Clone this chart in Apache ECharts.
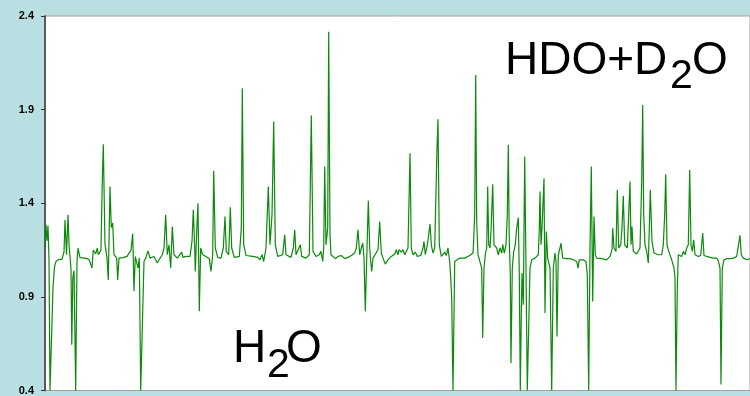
<!DOCTYPE html>
<html>
<head>
<meta charset="utf-8">
<script src="https://cdn.jsdelivr.net/npm/echarts@6/dist/echarts.min.js"></script>
<style>
  html, body { margin: 0; padding: 0; background: #b9dfe2; }
  #chart { width: 750px; height: 396px; }
</style>
</head>
<body>
<div id="chart"></div>
<script>
// spectrum channel positions (arbitrary units, 0 = left edge of plot)
var channel = [
  0, 1, 2, 3, 4, 5, 6.5, 8, 9.5, 11, 14, 17, 19, 20, 21.5, 23, 24, 26, 26.8, 27.8, 29, 30.7, 32, 33, 35, 37, 40, 44, 46, 47,
  48.3, 50.7, 52.3, 53.3, 56, 57.3, 58.3, 60, 62, 63.3, 65, 66.3, 67.7, 69, 71.7, 72.7, 74, 78, 82, 86, 87.7, 89, 90.3, 91.7,
  93, 94.3, 95.7, 97.3, 99, 100.7, 103, 105, 109, 112.3, 114, 117.3, 119, 120.7, 122.3, 124, 125.7, 127.3, 129, 132.3, 136.7, 138,
  141, 145, 147, 148.3, 149.7, 150.3, 151.7, 153, 154.3, 155.7, 157.7, 161, 164.3, 166, 167.7, 168.7, 170.3, 172.7, 176, 178.3,
  180, 181.3, 183.7, 185.3, 186.7, 189.3, 194.3, 196.3, 197.3, 198.7, 201, 207.7, 212.7, 215, 217, 218.7, 221, 223.3, 225, 227,
  228.7, 230.3, 232.7, 237.7, 239.7, 241, 246, 248.3, 249.7, 251, 253, 255.3, 256.7, 261, 264.3, 266.3, 268, 271, 274.3, 276,
  277.7, 278.7, 279.7, 281, 282.7, 283.7, 285, 286,
  287, 290.3, 293, 296.3, 299.7, 303, 306.3, 309.7, 311.3, 313, 314.7, 316.3, 317.7, 319, 320.3, 322, 323.3, 324.7, 325.7, 326.7,
  328, 329.7, 333, 334.7, 336.3, 338, 340.3, 343, 346.3, 349.7, 351.3, 353, 354, 356.3, 358, 359.7, 361.3, 363, 365, 366.3,
  368, 370.3, 372.3, 375.7, 378, 379, 380.3, 382.3, 383.7, 385, 386.3, 388, 389.7, 392, 393, 394.3, 396.3, 398, 399.7, 401.3,
  403, 404.7, 405.7, 406.7, 408, 409.7, 411.3, 414.7, 419.7, 424.7, 428,
  428.3, 429.7, 430.7, 431.7, 433, 435, 436.7, 437.7, 439, 440.3, 441.7, 442.7, 443.7, 445, 446, 447.7, 449, 451.7, 453.3, 455,
  456.7, 457.7, 459.3, 461, 462.3, 463.3, 464.3, 465.3, 466, 467.3, 468.7, 470.3, 471.7, 473.3, 474.3, 475.3, 476.3, 477, 478.3, 479.7,
  481, 482.3, 483.7, 485, 486.7, 490, 493.3, 494.3, 495, 496, 497, 499, 500, 501.3, 502.7, 505, 506.7, 508.3, 510, 511,
  512, 513.3, 515, 516, 517.7, 521.7, 525, 528.3, 531.7, 533, 534.3, 538.3, 541, 542.3, 543.7, 545, 546.3, 547.7, 549, 550.3,
  551.7, 556.7, 561.7, 563.3, 565, 567, 567.7, 569,
  571, 572.3, 573.7, 575.7, 577, 578.3, 579.7, 582.3, 583.7, 585, 586, 587, 588.3, 591.7, 595, 596.7, 597.7, 598.7, 600, 601.7,
  603.3, 604.3, 605.3, 607, 609, 613.3, 616.7, 618.3, 619.7, 620.7, 622, 623.7, 625, 626.7, 629, 630, 631, 632.3, 633.3, 635,
  636.7, 638.3, 640, 641.7, 643.3, 644.7, 646, 647.3, 648.7, 650, 653.3, 655.7, 657.7, 659, 661.7, 665, 668.3, 671.7, 673.3, 675,
  676, 677.3, 679, 681.7, 685, 688.3, 691.7, 693.7, 695, 696.3, 698.3, 701.7, 705
];
var signal = [
  1.16, 1.285, 1.2, 1.28, 1.1, 0.4, 0.4, 0.95, 1.06, 1.09, 1.1, 1.1, 1.14, 1.31, 1.125, 1.338, 1.18, 1.05, 0.645, 1.0, 1.04, 0.4, 1.09, 1.16, 1.11, 1.11, 1.107, 1.1, 1.1, 1.055,
  1.15, 1.13, 1.16, 1.125, 1.15, 1.52, 1.715, 1.18, 1.11, 0.99, 1.49, 1.27, 1.294, 1.125, 1.107, 0.99, 1.107, 1.11, 1.116, 1.15, 1.237, 0.93, 1.116, 1.125,
  1.054, 1.107, 0.4, 0.4, 1.09, 1.107, 1.146, 1.107, 1.116, 1.081, 1.098, 1.125, 1.161, 1.338, 1.125, 1.178, 1.054, 1.276, 1.125, 1.107, 1.139, 1.111,
  1.116, 1.116, 1.196, 1.365, 1.161, 1.036, 1.249, 1.4, 0.823, 1.161, 1.125, 1.116, 1.104, 1.036, 1.125, 1.573, 1.161, 1.111, 1.107, 1.161,
  1.329, 1.143, 1.125, 1.379, 1.161, 1.111, 1.116, 1.267, 2.014, 1.178, 1.121, 1.116, 1.111, 1.098, 1.125, 1.089, 1.161, 1.489, 1.178, 1.338,
  1.836, 1.178, 1.116, 1.125, 1.232, 1.125, 1.111, 1.161, 1.258, 1.125, 1.121, 1.178, 1.116, 1.107, 1.125, 1.868, 1.143, 1.116, 1.125, 1.143,
  1.089, 1.161, 1.596, 1.178, 1.267, 2.316, 1.23, 1.125,
  1.134, 1.104, 1.116, 1.121, 1.104, 1.111, 1.121, 1.134, 1.161, 1.258, 1.125, 1.161, 1.187, 1.107, 0.823, 1.161, 1.415, 1.161, 1.089, 1.036,
  1.107, 1.116, 1.152, 1.303, 1.134, 1.107, 1.075, 1.098, 1.116, 1.129, 1.152, 1.125, 1.152, 1.139, 1.152, 1.125, 1.125, 1.161, 1.667, 1.161,
  1.125, 1.139, 1.116, 1.121, 1.161, 1.196, 1.125, 1.178, 1.232, 1.289, 1.178, 1.134, 1.161, 1.694, 1.849, 1.178, 1.116, 1.107, 1.139, 1.121,
  1.161, 1.089, 1.001, 0.894, 0.4, 1.089, 1.098, 1.107, 1.107, 1.121, 1.134,
  1.161, 1.338, 2.085, 1.303, 1.125, 1.116, 1.054, 0.681, 1.054, 1.125, 1.161, 1.489, 1.178, 1.161, 1.249, 1.502, 1.178, 1.161, 1.125, 1.161,
  1.134, 1.18, 1.134, 1.178, 1.338, 1.712, 1.196, 1.018, 0.547, 1.054, 1.143, 1.178, 1.267, 1.324, 1.018, 0.4, 0.805, 1.027, 0.858, 1.649,
  1.054, 0.4, 0.4, 1.054, 1.098, 1.107, 1.125, 1.267, 1.463, 1.178, 1.267, 1.534, 0.814, 1.249, 1.107, 1.054, 0.4, 1.054, 1.134, 1.089,
  0.689, 1.125, 1.161, 1.187, 1.107, 1.104, 1.104, 1.098, 1.089, 1.054, 1.098, 1.098, 1.089, 1.018, 0.4, 1.161, 1.596, 0.876, 1.329, 1.125,
  1.107, 1.104, 1.098, 1.089, 1.116, 1.152, 1.267, 1.161,
  1.143, 1.472, 1.161, 1.178, 1.267, 1.44, 1.178, 1.161, 1.338, 1.516, 1.178, 1.276, 1.143, 1.129, 1.161, 1.516, 1.925, 1.338, 1.178, 1.143,
  1.081, 1.267, 1.472, 1.196, 1.134, 1.125, 1.125, 1.178, 1.338, 1.555, 1.178, 1.143, 1.152, 1.098, 1.054, 1.001, 0.4, 0.947, 1.125, 1.134,
  1.116, 1.143, 1.125, 1.161, 1.178, 1.578, 1.178, 1.143, 1.205, 1.125, 1.116, 1.121, 1.241, 1.121, 1.116, 1.111, 1.107, 1.107, 1.093, 1.054,
  0.432, 1.054, 1.098, 1.104, 1.104, 1.107, 1.116, 1.125, 1.228, 1.125, 1.107, 1.098, 1.104
];
var yTicks = [0.4, 0.9, 1.4, 1.9, 2.4];

var chart = echarts.init(document.getElementById('chart'));

var seriesData = channel.map(function (c, i) {
  return [c, signal[i]];
});

var labelFont = 'Liberation Sans, Arial, sans-serif';

var option = {
  animation: false,
  backgroundColor: '#b9dfe2',
  grid: {
    left: 45,
    right: -1,
    top: 16,
    bottom: 5,
    show: true,
    backgroundColor: '#ffffff',
    borderColor: '#a3a3a3',
    borderWidth: 1
  },
  xAxis: {
    type: 'value',
    min: 0,
    max: 705,
    axisLine: { show: false },
    axisTick: { show: false },
    axisLabel: { show: false },
    splitLine: { show: false }
  },
  yAxis: {
    type: 'value',
    min: yTicks[0],
    max: yTicks[yTicks.length - 1],
    interval: 0.5,
    axisLine: {
      show: true,
      lineStyle: { color: '#5a5a5a', width: 2 }
    },
    axisTick: {
      show: true,
      length: 4,
      lineStyle: { color: '#333', width: 1 }
    },
    axisLabel: {
      margin: 11,
      color: '#000',
      fontSize: 11,
      fontWeight: 'bold',
      fontFamily: labelFont,
      formatter: function (v) { return v.toFixed(1); }
    },
    splitLine: { show: false }
  },
  series: [{
    type: 'line',
    data: seriesData,
    showSymbol: false,
    symbol: 'none',
    lineStyle: { color: '#0b8a0b', width: 1.2 }
  }],
  graphic: [
    // HDO+D2O
    { type: 'text', left: 505, top: 38, style: { text: 'HDO+D', fontSize: 46, fontFamily: labelFont, fill: '#000' } },
    { type: 'text', left: 670, top: 56, style: { text: '2', fontSize: 41, fontFamily: labelFont, fill: '#000' } },
    { type: 'text', left: 692, top: 38, style: { text: 'O', fontSize: 46, fontFamily: labelFont, fill: '#000' } },
    // H2O
    { type: 'text', left: 233, top: 326, style: { text: 'H', fontSize: 46, fontFamily: labelFont, fill: '#000' } },
    { type: 'text', left: 267, top: 345, style: { text: '2', fontSize: 41, fontFamily: labelFont, fill: '#000' } },
    { type: 'text', left: 286, top: 326, style: { text: 'O', fontSize: 46, fontFamily: labelFont, fill: '#000' } }
  ]
};

chart.setOption(option);
</script>
</body>
</html>
